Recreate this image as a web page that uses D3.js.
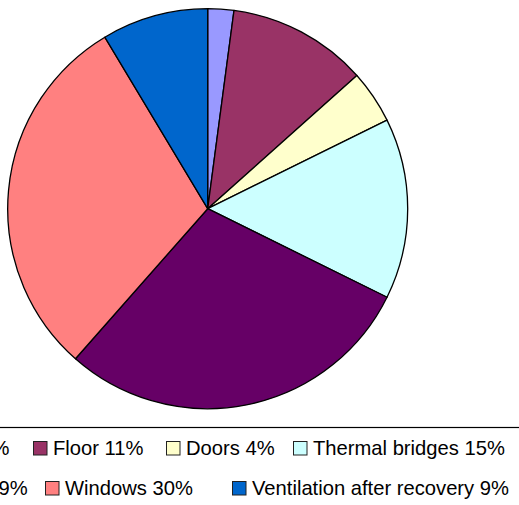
<!DOCTYPE html>
<html>
<head>
<meta charset="utf-8">
<script src="https://cdn.jsdelivr.net/npm/d3@7"></script>
<style>
  html, body { margin: 0; padding: 0; background: #fff; overflow: hidden; }
  svg { display: block; font-family: "Liberation Sans", Arial, sans-serif; }
</style>
</head>
<body>
<svg id="chart" width="519" height="505"></svg>
<script>
// Heat loss shares by building element (percent); legend shows rounded values
const categories = ["Roof", "Floor", "Doors", "Thermal bridges", "Walls", "Windows", "Ventilation after recovery"];
const shares = [2.1, 11.3, 4.3, 14.6, 29.2, 29.9, 8.6];
const colors = ["#9999FF", "#993366", "#FFFFCC", "#CCFFFF", "#660066", "#FF8080", "#0066CC"];

// Legend rows (indices into categories) and where each entry begins
const legendRows = [[0, 1, 2, 3], [4, 5, 6]];
const legendSlots = [[-88, 33, 166, 293], [-87, 45, 232]];

const svg = d3.select("#chart");
const W = 519, H = 505;
const cx = 207.7, cy = 208.7, radius = 200;

const data = categories.map((name, i) => ({ name, value: shares[i], color: colors[i] }));

const pie = d3.pie().value(d => d.value).sort(null).startAngle(0).endAngle(2 * Math.PI);
const arc = d3.arc().innerRadius(0).outerRadius(radius);

svg.append("g")
  .attr("transform", `translate(${cx},${cy})`)
  .selectAll("path")
  .data(pie(data))
  .join("path")
  .attr("d", arc)
  .attr("fill", d => d.data.color)
  .attr("stroke", "#000")
  .attr("stroke-width", 1.3)
  .attr("stroke-linejoin", "round");

// Legend box
svg.append("rect")
  .attr("x", -200).attr("y", 427.5)
  .attr("width", W + 400).attr("height", 200)
  .attr("fill", "#fff")
  .attr("stroke", "#000")
  .attr("stroke-width", 1.2);

const rowBaselines = [455, 495];
const legend = svg.append("g");
legendRows.forEach((row, r) => {
  row.forEach((idx, k) => {
    const x = legendSlots[r][k];
    const g = legend.append("g").attr("transform", `translate(${x},${rowBaselines[r]})`);
    g.append("rect")
      .attr("x", 0.5).attr("y", -13.5)
      .attr("width", 13.5).attr("height", 13.5)
      .attr("fill", data[idx].color)
      .attr("stroke", "#222")
      .attr("stroke-width", 1);
    g.append("text")
      .attr("x", 20).attr("y", 0)
      .attr("font-size", 20.2)
      .attr("fill", "#000")
      .text(`${data[idx].name} ${Math.round(data[idx].value)}%`);
  });
});
</script>
</body>
</html>
